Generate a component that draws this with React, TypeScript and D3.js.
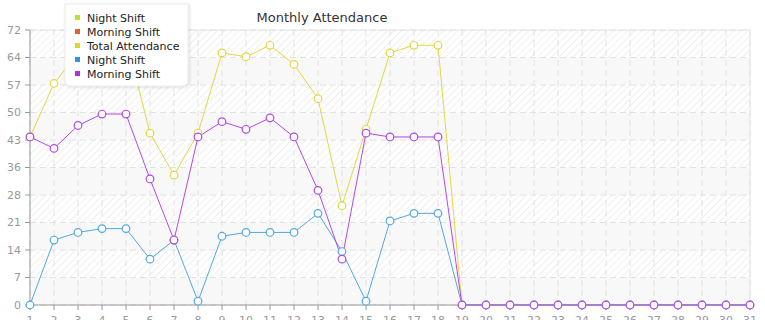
import React from "react";
import * as d3 from "d3";

const days: number[] = Array.from({ length: 31 }, (_, i) => i + 1);
const nightShift: number[] = [0, 17, 19, 20, 20, 12, 17, 1, 18, 19, 19, 19, 24, 14, 1, 22, 24, 24, 0, 0, 0, 0, 0, 0, 0, 0, 0, 0, 0, 0, 0];
const morningShift: number[] = [44, 41, 47, 50, 50, 33, 17, 44, 48, 46, 49, 44, 30, 12, 45, 44, 44, 44, 0, 0, 0, 0, 0, 0, 0, 0, 0, 0, 0, 0, 0];
const totalAttendance: number[] = [44, 58, 66, 70, 70, 45, 34, 45, 66, 65, 68, 63, 54, 26, 46, 66, 68, 68, 0, 0, 0, 0, 0, 0, 0, 0, 0, 0, 0, 0, 0];
const yTicks: number[] = [0, 7.2, 14.4, 21.6, 28.8, 36, 43.2, 50.4, 57.6, 64.8, 72];
const legendNames: string[] = ["Night Shift", "Morning Shift", "Total Attendance", "Night Shift", "Morning Shift"];
const legendColors: string[] = ["#bde02e", "#e0622e", "#e0d42e", "#2e96e0", "#b02ee0"];
const title = "Monthly Attendance";

const W = 765, H = 320;
const left = 30, right = 750, top = 30, bottom = 305;

export default function App() {
  const x = d3.scaleLinear().domain([1, 31]).range([left, right]);
  const y = d3.scaleLinear().domain([0, 72]).range([bottom, top]);
  const line = d3.line<number>().x((_, i) => x(days[i])).y((d) => y(d));
  const series = [
    { data: totalAttendance, color: "#e3d743" },
    { data: nightShift, color: "#52a8e2" },
    { data: morningShift, color: "#b448e6" },
  ];
  const font = "'DejaVu Sans', Verdana, sans-serif";
  return (
    <svg width={W} height={H} style={{ position: "absolute", left: 0, top: 0 }} fontFamily={font}>
      <defs>
        <pattern id="stripes" patternUnits="userSpaceOnUse" width={5} height={5} patternTransform="rotate(45)">
          <rect width={5} height={5} fill="#ffffff" />
          <line x1={0} y1={0} x2={0} y2={5} stroke="#ececec" strokeWidth={1.6} />
        </pattern>
        <filter id="shadow" x="-10%" y="-10%" width="130%" height="130%">
          <feDropShadow dx={1} dy={1} stdDeviation={1.5} floodColor="#000" floodOpacity={0.15} />
        </filter>
      </defs>
      <rect x={0} y={0} width={W} height={H} fill="#fff" />
      {yTicks.slice(0, -1).map((t, i) => {
        const y0 = y(yTicks[i + 1]);
        const y1 = y(t);
        const fromTop = yTicks.length - 2 - i;
        return (
          <rect key={i} x={left} y={y0} width={right - left} height={y1 - y0}
            fill={fromTop % 2 === 0 ? "url(#stripes)" : "#f8f8f8"} />
        );
      })}
      {days.map((d) => (
        <line key={"vg" + d} x1={x(d)} x2={x(d)} y1={top} y2={bottom} stroke="#e2e2e2" strokeDasharray="6,4" />
      ))}
      {yTicks.map((t, i) => (
        <line key={"hg" + i} x1={left} x2={right} y1={y(t)} y2={y(t)} stroke="#e2e2e2" strokeDasharray="6,4" />
      ))}
      <line x1={left} x2={right} y1={top} y2={top} stroke="#e4e4e4" />
      <line x1={right} x2={right} y1={top} y2={bottom} stroke="#e4e4e4" />
      <line x1={left} x2={left} y1={top} y2={bottom} stroke="#999" />
      <line x1={left} x2={right} y1={bottom} y2={bottom} stroke="#999" />
      {yTicks.map((t, i) => (
        <g key={"yt" + i}>
          <line x1={left - 5} x2={left} y1={y(t)} y2={y(t)} stroke="#999" />
          <text x={left - 9} y={y(t)} dy="0.35em" textAnchor="end" fontSize={11} fill="#999">{Math.floor(t)}</text>
        </g>
      ))}
      {days.map((d) => (
        <g key={"xt" + d}>
          <line x1={x(d)} x2={x(d)} y1={bottom} y2={bottom + 5} stroke="#999" />
          <text x={x(d)} y={bottom + 19} textAnchor="middle" fontSize={11} fill="#999">{d}</text>
        </g>
      ))}
      {series.map((s, si) => (
        <g key={"s" + si}>
          <path d={line(s.data) || ""} fill="none" stroke={s.color} strokeWidth={1} />
        </g>
      ))}
      {series.map((s, si) => (
        <g key={"m" + si}>
          {s.data.map((v, i) => (
            <circle key={i} cx={x(days[i])} cy={y(v)} r={3.8} fill="#fff" stroke={s.color} strokeWidth={1.2} />
          ))}
        </g>
      ))}
      <text x={322} y={22} textAnchor="middle" fontSize={13} fill="#333">{title}</text>
      <g filter="url(#shadow)">
        <path d="M65,4 L188,4 L188,80 Q188,86 182,86 L71,86 Q65,86 65,80 Z" fill="#fff" stroke="#ececec" />
      </g>
      {legendNames.map((n, i) => (
        <g key={"lg" + i}>
          <rect x={75} y={15 + i * 14} width={5} height={5} fill={legendColors[i]} />
          <text x={87} y={18 + i * 14} dy="0.35em" fontSize={11} fill="#222">{n}</text>
        </g>
      ))}
    </svg>
  );
}
